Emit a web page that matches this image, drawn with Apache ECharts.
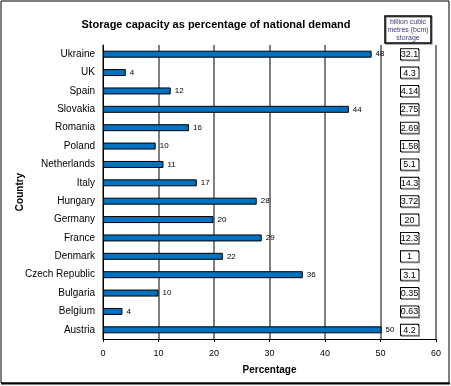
<!DOCTYPE html>
<html>
<head>
<meta charset="utf-8">
<script src="https://cdn.jsdelivr.net/npm/echarts@6/dist/echarts.min.js"></script>
<style>
html,body{margin:0;padding:0;background:#fff;}
#c{width:451px;height:386px;}
</style>
</head>
<body>
<div id="c"></div>
<script>
var countries = ['Ukraine','UK','Spain','Slovakia','Romania','Poland','Netherlands','Italy','Hungary','Germany','France','Denmark','Czech Republic','Bulgaria','Belgium','Austria'];
var percentage = [48.4, 4.1, 12.2, 44.3, 15.5, 9.5, 10.9, 16.9, 27.7, 19.9, 28.6, 21.6, 36.0, 10.0, 3.5, 50.2];
var storage = ['32.1','4.3','4.14','2.75','2.69','1.58','5.1','14.3','3.72','20','12.3','1','3.1','0.35','0.63','4.2'];
var xTicks = [0, 10, 20, 30, 40, 50, 60];

var chart = echarts.init(document.getElementById('c'), null, {renderer:'canvas'});
var font = 'Arial, "Liberation Sans", sans-serif';
chart.setOption({
  animation: false,
  backgroundColor: '#fff',
  textStyle: {fontFamily: font},
  title: [{
    text: 'Storage capacity as percentage of national demand',
    left: 211, top: 14, textAlign: 'center',
    textStyle: {fontSize: 11, fontWeight: 'bold', color: '#000', fontFamily: font}
  }, {
    text: 'billion cubic\nmetres (bcm)\nstorage',
    left: 405, top: 16, textAlign: 'center',
    padding: [2, 3, 1, 3],
    borderColor: '#000', borderWidth: 1.5,
    shadowColor: '#999', shadowOffsetX: 1, shadowOffsetY: 1,
    textStyle: {fontSize: 7, lineHeight: 8, fontWeight: 'normal', color: '#3a3a80', fontFamily: font}
  }],
  graphic: [{
    type: 'rect', shape: {x: 1, y: 1, width: 448, height: 382},
    style: {fill: 'none', stroke: '#000', lineWidth: 1}, silent: true
  }, {
    type: 'line', shape: {x1: 1, y1: 383.5, x2: 450, y2: 383.5},
    style: {stroke: '#000', lineWidth: 2}, silent: true
  }],
  grid: {left: 103, right: 15, top: 45, height: 294, containLabel: false},
  xAxis: {
    type: 'value', min: 0, max: 60, interval: 10,
    name: 'Percentage', nameLocation: 'middle', nameGap: 26, nameMoveOverlap: false,
    nameTextStyle: {fontSize: 10, fontWeight: 'bold', color: '#000', fontFamily: font},
    axisLine: {show: true, lineStyle: {color: '#000', width: 1}},
    axisTick: {show: true, length: 3, lineStyle: {color: '#000'}},
    axisLabel: {fontSize: 9, color: '#000', margin: 10, fontFamily: font,
      formatter: function(v){ return xTicks.indexOf(v) >= 0 ? String(v) : ''; }},
    splitLine: {show: true, lineStyle: {color: '#555', width: 1.5}}
  },
  yAxis: [{
    type: 'category', data: countries, inverse: true,
    name: 'Country', nameLocation: 'middle', nameGap: 78, nameRotate: 90, nameMoveOverlap: false,
    nameTextStyle: {fontSize: 10, fontWeight: 'bold', color: '#000', fontFamily: font},
    axisLine: {show: true, lineStyle: {color: '#000', width: 1}},
    axisTick: {show: false},
    axisLabel: {fontSize: 10, color: '#000', margin: 8, fontFamily: font}
  }, {
    type: 'category', data: countries, inverse: true, position: 'right',
    axisLine: {show: false}, axisTick: {show: false},
    axisLabel: {
      inside: true, margin: 18, fontFamily: font,
      formatter: function(v, i){ return '{b|' + storage[i] + '}'; },
      rich: {b: {fontSize: 9, color: '#000', width: 15, align: 'center', padding: [1, 1, 0, 1],
        borderColor: '#000', borderWidth: 1, backgroundColor: '#fff',
        shadowColor: '#888', shadowOffsetX: 1, shadowOffsetY: 1, fontFamily: font}}
    }
  }],
  series: [{
    type: 'bar', data: percentage, yAxisIndex: 0, barWidth: 7,
    itemStyle: {color: '#0070c0', borderColor: '#000', borderWidth: 1},
    label: {show: true, position: 'right', distance: 4, fontSize: 8, color: '#000', fontFamily: font,
      formatter: function(p){ return String(Math.round(p.value)); }}
  }]
});
</script>
</body>
</html>
